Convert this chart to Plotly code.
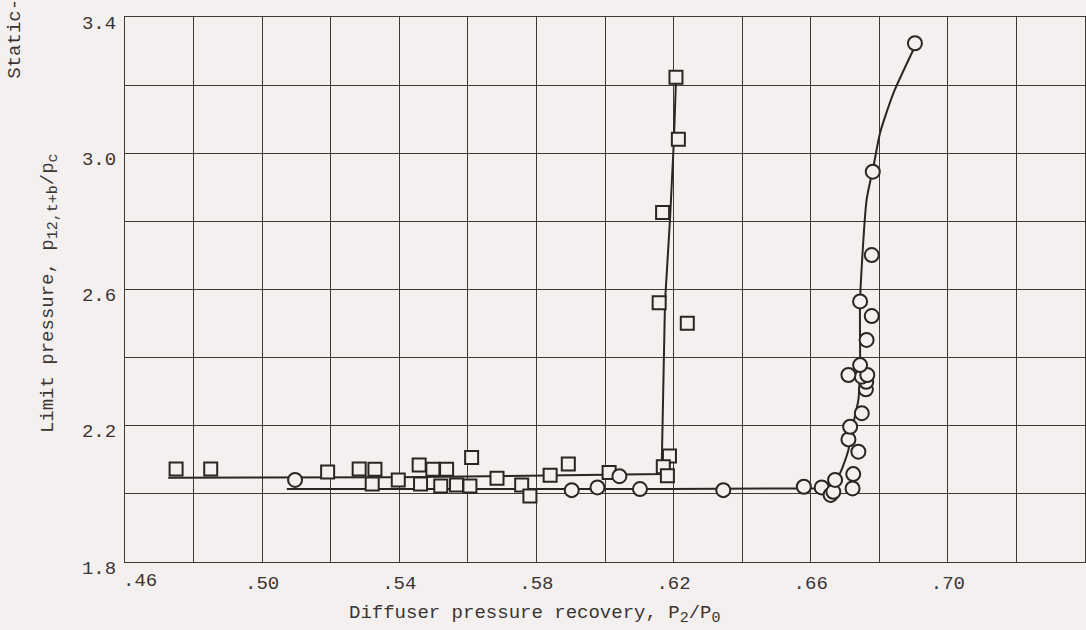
import plotly.graph_objects as go

# ---- data ----
square_x = [0.4749, 0.4850, 0.5191, 0.5283, 0.5329, 0.5321, 0.5397, 0.5458, 0.5462, 0.5498,
            0.5538, 0.5521, 0.5567, 0.5611, 0.5606, 0.5685, 0.5757, 0.5781, 0.5840, 0.5893,
            0.6012, 0.6188, 0.6170, 0.6182, 0.6158, 0.6168, 0.6207, 0.6214, 0.6240]
square_y = [2.073, 2.073, 2.064, 2.073, 2.072, 2.029, 2.041, 2.085, 2.029, 2.072,
            2.072, 2.023, 2.026, 2.107, 2.023, 2.046, 2.026, 1.994, 2.055, 2.088,
            2.063, 2.111, 2.080, 2.053, 2.561, 2.826, 3.223, 3.041, 2.501]

circle_x = [0.5096, 0.5903, 0.5978, 0.6042, 0.6102, 0.6345, 0.6580, 0.6632, 0.6658, 0.6666,
            0.6671, 0.6722, 0.6724, 0.6739, 0.6710, 0.6715, 0.6749, 0.6761, 0.6762, 0.6749,
            0.6765, 0.6710, 0.6744, 0.6763, 0.6778, 0.6744, 0.6778, 0.6781, 0.6904]
circle_y = [2.041, 2.011, 2.019, 2.052, 2.014, 2.011, 2.021, 2.019, 1.997, 2.006,
            2.041, 2.016, 2.058, 2.124, 2.160, 2.197, 2.237, 2.307, 2.329, 2.344,
            2.349, 2.349, 2.378, 2.452, 2.522, 2.565, 2.701, 2.946, 3.323]

fair_square_x = [0.4726, 0.5400, 0.6165, 0.6175, 0.6190, 0.6201, 0.6207]
fair_square_y = [2.047, 2.049, 2.058, 2.563, 2.813, 3.039, 3.215]

fair_circle_x = [0.5072, 0.5800, 0.6600, 0.6647, 0.6685, 0.6710, 0.6720, 0.6739, 0.6744,
                 0.6744, 0.6763, 0.6783, 0.6802, 0.6841, 0.6899]
fair_circle_y = [2.014, 2.014, 2.016, 2.018, 2.060, 2.129, 2.188, 2.276, 2.373,
                 2.569, 2.863, 2.961, 3.059, 3.176, 3.303]

x_ticks = [0.46, 0.48, 0.50, 0.52, 0.54, 0.56, 0.58, 0.60, 0.62, 0.64, 0.66, 0.68, 0.70, 0.72, 0.74]
x_ticktext = ["", "", ".50", "", ".54", "", ".58", "", ".62", "", ".66", "", ".70", "", ""]
y_ticks = [1.8, 2.0, 2.2, 2.4, 2.6, 2.8, 3.0, 3.2, 3.4]
y_ticktext = ["1.8", "", "2.2", "", "2.6", "", "3.0", "", "3.4"]

BG = "#f4f0ef"
INK = "#2b2523"
GRID = "#3f3a38"
TXT = "#3a3533"
FONT = "Liberation Mono, Courier New, monospace"
FS = 19

fig = go.Figure()

fig.add_trace(go.Scatter(x=fair_square_x, y=fair_square_y, mode="lines",
                         line=dict(color=INK, width=2), hoverinfo="skip", showlegend=False))
fig.add_trace(go.Scatter(x=fair_circle_x, y=fair_circle_y, mode="lines",
                         line=dict(color=INK, width=2, shape="spline", smoothing=0.6),
                         hoverinfo="skip", showlegend=False))
fig.add_trace(go.Scatter(x=square_x, y=square_y, mode="markers",
                         marker=dict(symbol="square", size=13, color=BG,
                                     line=dict(color=INK, width=2)),
                         showlegend=False))
fig.add_trace(go.Scatter(x=circle_x, y=circle_y, mode="markers",
                         marker=dict(symbol="circle", size=14, color=BG,
                                     line=dict(color=INK, width=2)),
                         showlegend=False))

axis_common = dict(showgrid=True, gridcolor=GRID, gridwidth=1.2, zeroline=False,
                   showline=True, linecolor=GRID, linewidth=1.2, mirror=True,
                   tickfont=dict(family=FONT, size=FS, color=TXT),
                   ticks="outside", tickcolor="rgba(0,0,0,0)")

fig.update_xaxes(range=[0.46, 0.74], tickmode="array", tickvals=x_ticks, ticktext=x_ticktext,
                 ticklen=3, **axis_common)
fig.update_yaxes(range=[1.8, 3.4], tickmode="array", tickvals=y_ticks, ticktext=y_ticktext,
                 ticklen=4, ticklabelshift=5, **axis_common)

sub = "<sub><span style='font-size:15px'>{}</span></sub>"

fig.update_layout(
    width=1086, height=630,
    margin=dict(l=125, r=1, t=17, b=68),
    paper_bgcolor=BG, plot_bgcolor=BG,
    font=dict(family=FONT, size=FS, color=TXT),
    annotations=[
        dict(text=".46", x=0.46, y=0, xref="x", yref="paper", xanchor="left", yanchor="top",
             xshift=-4, yshift=-6, showarrow=False, font=dict(family=FONT, size=FS, color=TXT)),
        dict(text="Diffuser pressure recovery, P" + sub.format("2") + "/P" + sub.format("0"),
             x=0.427, y=-0.097, xref="paper", yref="paper", xanchor="center", yanchor="middle",
             showarrow=False, font=dict(family=FONT, size=FS, color=TXT)),
        dict(text="Limit pressure, p" + sub.format("12,t+b") + "/p" + sub.format("c"),
             x=-0.078, y=0.4936, xref="paper", yref="paper", xanchor="center", yanchor="middle",
             textangle=-90, showarrow=False, font=dict(family=FONT, size=FS, color=TXT)),
        dict(text="Static-pressure", x=-0.1146, y=0.884, xref="paper", yref="paper",
             xanchor="center", yanchor="bottom", textangle=-90, showarrow=False,
             font=dict(family=FONT, size=FS, color=TXT)),
    ],
)

fig.write_html("out.html",
               config={"displayModeBar": False},
               post_script="document.body.style.margin='0';"
                           "document.body.style.background='#f4f0ef';")
